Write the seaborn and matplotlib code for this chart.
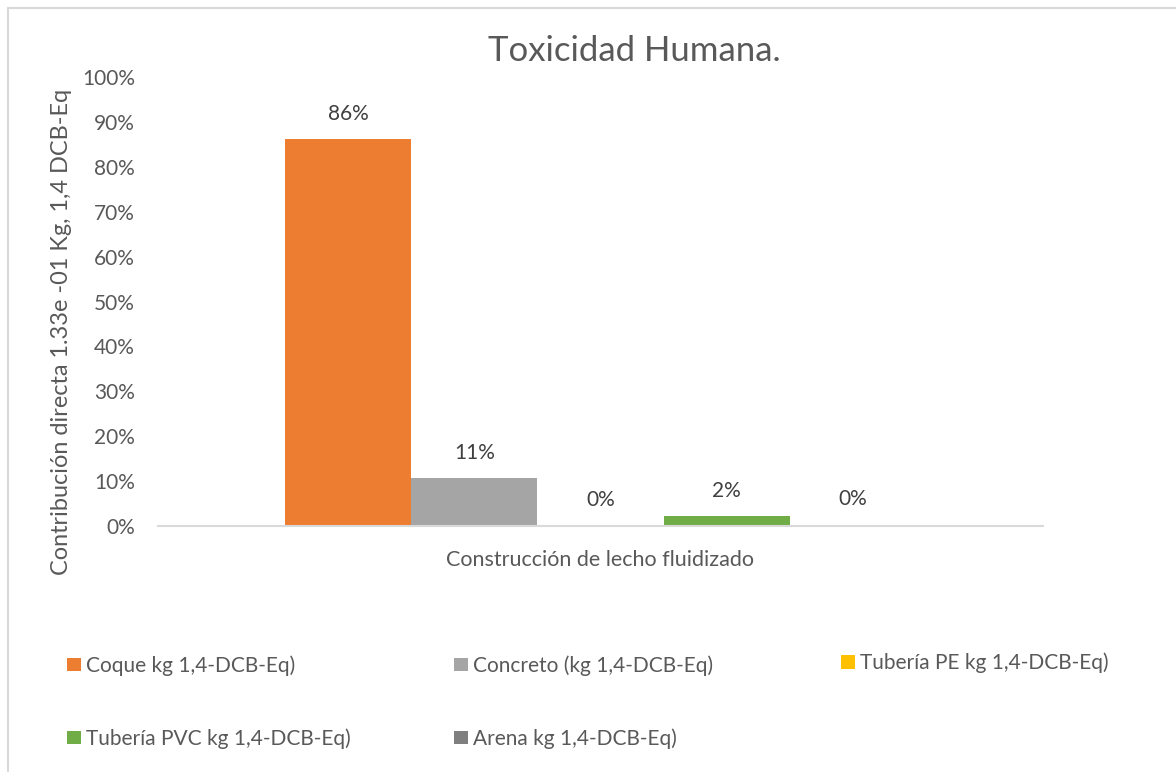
import matplotlib
matplotlib.use("Agg")
import matplotlib.pyplot as plt
import seaborn as sns
import pandas as pd
from matplotlib.patches import Rectangle, Patch
from matplotlib.ticker import PercentFormatter, FixedLocator

# Data
category = "Construcción de lecho fluidizado"
series = [
    "Coque kg 1,4-DCB-Eq)",
    "Concreto (kg 1,4-DCB-Eq)",
    "Tubería PE kg 1,4-DCB-Eq)",
    "Tubería PVC kg 1,4-DCB-Eq)",
    "Arena kg 1,4-DCB-Eq)",
]
shares = [0.862, 0.106, 0.001, 0.022, 0.003]
colors = ["#ED7D31", "#A5A5A5", "#FFC000", "#70AD47", "#7F7F7F"]
y_ticks = [0.0, 0.1, 0.2, 0.3, 0.4, 0.5, 0.6, 0.7, 0.8, 0.9, 1.0]

title = "Toxicidad Humana."
y_label = "Contribución directa 1.33e -01 Kg, 1,4 DCB-Eq"

TEXT = "#595959"
LINE = "#D9D9D9"

sns.set_theme(style="white")
plt.rcParams["font.family"] = ["Lato", "DejaVu Sans"]

W, H = 1176, 772
fig = plt.figure(figsize=(W / 100, H / 100), dpi=100)
ax = fig.add_axes([158 / W, 1 - 526 / H, 885 / W, 449 / H])

df = pd.DataFrame({"grupo": [category] * len(series), "fuente": series, "valor": shares})
sns.barplot(
    data=df, x="grupo", y="valor", hue="fuente", hue_order=series,
    palette=colors, width=0.712, gap=0, dodge=True, saturation=1,
    linewidth=0, legend=False, ax=ax,
)

# Value labels above each bar
for cont, v in zip(ax.containers, shares):
    ax.bar_label(cont, labels=[f"{v:.0%}"], padding=11, fontsize=15, color="#404040")

ax.set_xlim(-0.5, 0.5)
ax.set_ylim(0, 1.0)
ax.yaxis.set_major_locator(FixedLocator(y_ticks))
ax.yaxis.set_major_formatter(PercentFormatter(1.0, decimals=0))
ax.tick_params(axis="y", length=0, pad=16.5, labelsize=15, labelcolor=TEXT)

ax.set_xticks([0])
ax.set_xticklabels([category])
ax.set_xticks([-0.5, 0.5], minor=True)
ax.tick_params(axis="x", which="major", length=0, pad=17.5, labelsize=15.5, labelcolor=TEXT)
ax.tick_params(axis="x", which="minor", length=5, width=1.5, color=LINE, direction="out")
ax.set_xlabel("")

for s in ("left", "top", "right"):
    ax.spines[s].set_visible(False)
ax.spines["bottom"].set_color(LINE)
ax.spines["bottom"].set_linewidth(1.5)
ax.grid(False)

ax.set_ylabel(y_label, fontsize=16.9, color=TEXT, va="center")
ax.yaxis.set_label_coords((62 - 158) / 885, 0.433)

fig.text(634 / W, 1 - 61 / H, title, ha="center", va="baseline", fontsize=25, color=TEXT)

# Chart frame
fig.add_artist(Rectangle((8 / W, -0.1), 1.2, 1 - 8 / H + 0.1, transform=fig.transFigure,
                         fill=False, edgecolor=LINE, linewidth=1.5))

# Legend laid out in three columns, two rows
handles = {s: Patch(facecolor=c, edgecolor="none") for s, c in zip(series, colors)}
leg_kw = dict(frameon=False, fontsize=15, labelcolor=TEXT, borderpad=0, borderaxespad=0,
              handlelength=0.67, handleheight=0.6, handletextpad=0.25, labelspacing=2.5)
columns = [
    (67, [series[0], series[3]]),
    (454, [series[1], series[4]]),
    (841, [series[2]]),
]
for x0, items in columns:
    yc = 702 if len(items) == 2 else 663
    fig.legend([handles[s] for s in items], items, loc="center left",
               bbox_to_anchor=(x0 / W, 1 - yc / H), **leg_kw)

fig.savefig("out.png", dpi=100)
